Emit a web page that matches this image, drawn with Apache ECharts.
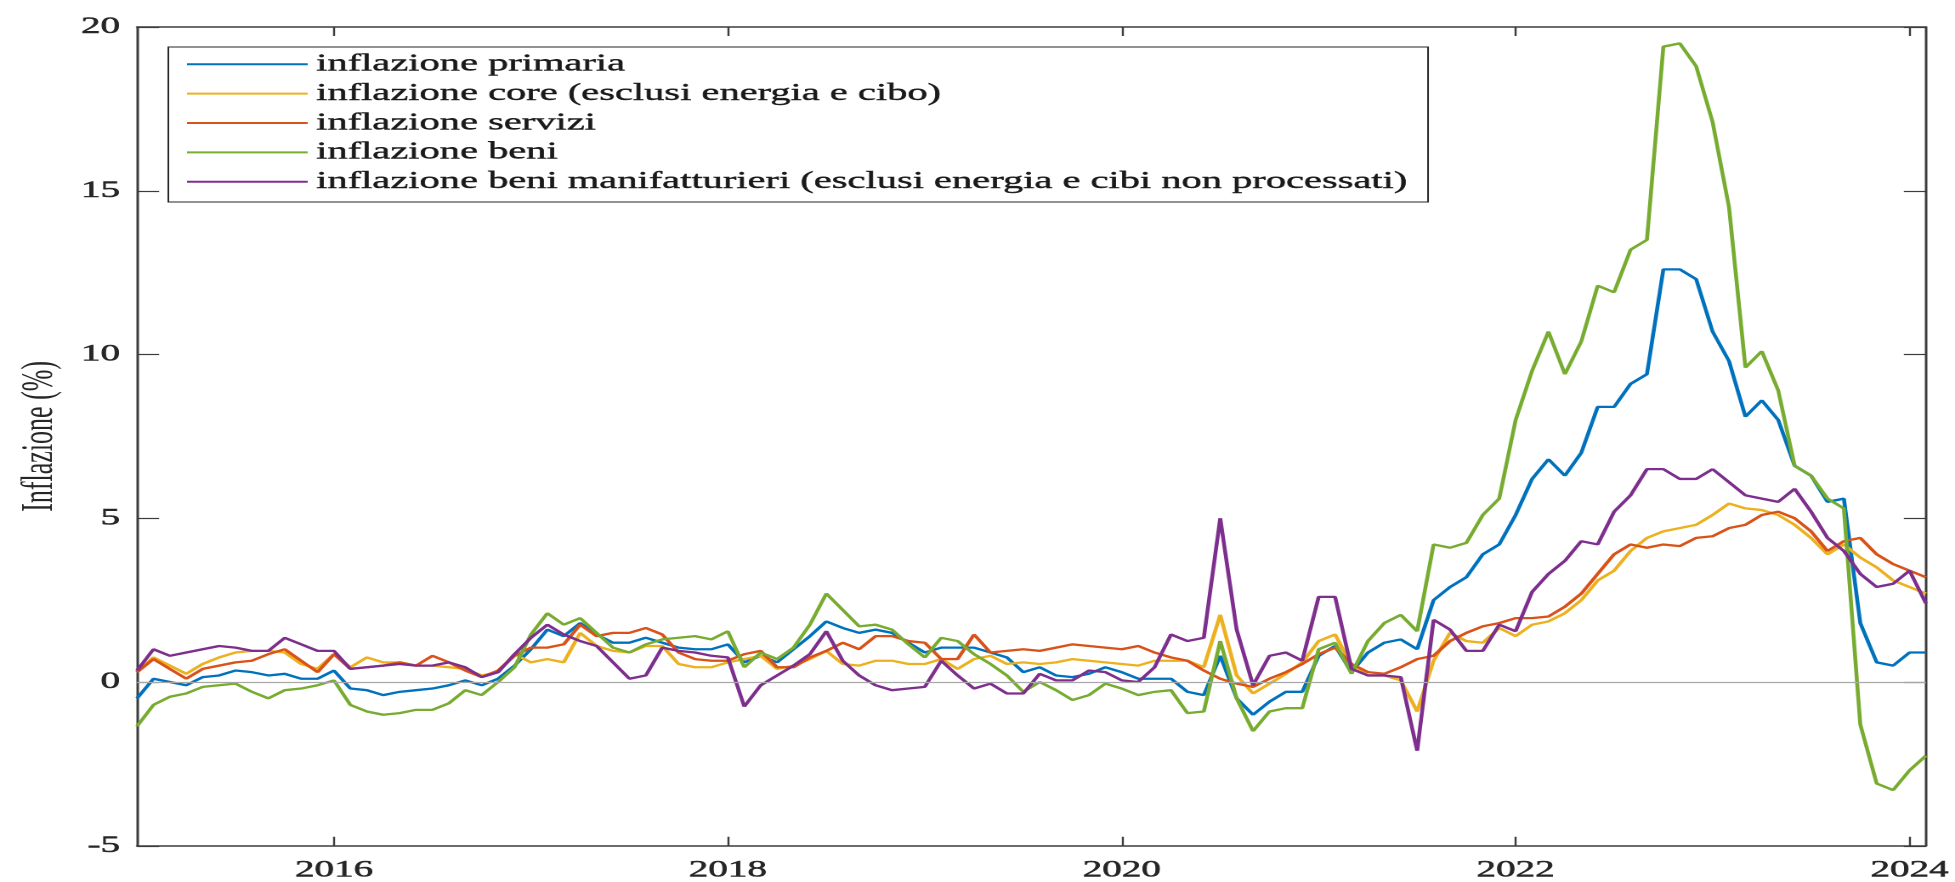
<!DOCTYPE html>
<html>
<head>
<meta charset="utf-8">
<title>Inflazione</title>
<script src="https://cdn.jsdelivr.net/npm/echarts@6/dist/echarts.min.js"></script>
<style>
  html, body { margin: 0; padding: 0; background: #fff; overflow: hidden; }
  /* the reference figure is stretched horizontally, so the chart is drawn narrow and scaled */
  #chart { width: 1150px; height: 882px; transform: scaleX(1.7); transform-origin: 0 0; }
</style>
</head>
<body>
<div id="chart"></div>
<script>
// monthly observations, Jan 2015 .. Feb 2024
const months = [];
for (let y = 2015; y <= 2024; y++) {
  for (let m = 1; m <= 12; m++) {
    if (months.length < 110) months.push(y + '-' + String(m).padStart(2, '0'));
  }
}

const seriesNames = [
  'inflazione primaria',
  'inflazione core (esclusi energia e cibo)',
  'inflazione servizi',
  'inflazione beni',
  'inflazione beni manifatturieri (esclusi energia e cibi non processati)'
];
const seriesColors = ['#0072BD', '#EDB120', '#D95319', '#77AC30', '#7E2F8E'];

const primaria = [
  -0.5, 0.1, 0.0, -0.1, 0.15, 0.2, 0.35, 0.3, 0.2, 0.25, 0.1, 0.1,
  0.35, -0.2, -0.25, -0.4, -0.3, -0.25, -0.2, -0.1, 0.05, -0.1, 0.1, 0.5,
  1.0, 1.6, 1.4, 1.8, 1.45, 1.2, 1.2, 1.35, 1.2, 1.05, 1.0, 1.0,
  1.15, 0.6, 0.8, 0.6, 1.0, 1.4, 1.85, 1.65, 1.5, 1.6, 1.5, 1.2,
  0.9, 1.05, 1.05, 1.05, 0.9, 0.75, 0.3, 0.45, 0.2, 0.15, 0.25, 0.45,
  0.3, 0.1, 0.1, 0.1, -0.3, -0.4, 0.8, -0.5, -1.0, -0.6, -0.3, -0.3,
  0.8, 1.1, 0.3, 0.9, 1.2, 1.3, 1.0, 2.5, 2.9, 3.2, 3.9, 4.2,
  5.1, 6.2, 6.8, 6.3, 7.0, 8.4, 8.4, 9.1, 9.4, 12.6, 12.6, 12.3,
  10.7, 9.8, 8.1, 8.6, 8.0, 6.6, 6.3, 5.5, 5.6, 1.8, 0.6, 0.5,
  0.9, 0.9
];
const core = [
  0.3, 0.75, 0.5, 0.25, 0.55, 0.75, 0.9, 0.95, 0.95, 0.9, 0.55, 0.4,
  0.85, 0.45, 0.75, 0.6, 0.6, 0.5, 0.5, 0.45, 0.4, 0.2, 0.3, 0.85,
  0.6, 0.7, 0.6, 1.5, 1.1, 0.95, 0.9, 1.1, 1.1, 0.55, 0.45, 0.45,
  0.6, 0.7, 0.8, 0.4, 0.5, 0.7, 0.95, 0.55, 0.5, 0.65, 0.65, 0.55,
  0.55, 0.7, 0.4, 0.7, 0.8, 0.55, 0.6, 0.55, 0.6, 0.7, 0.65, 0.6,
  0.55, 0.5, 0.65, 0.65, 0.65, 0.45, 2.05, 0.2, -0.35, -0.05, 0.25, 0.6,
  1.25, 1.45, 0.5, 0.2, 0.2, 0.05, -0.9, 0.65, 1.5, 1.25, 1.2, 1.65,
  1.4, 1.75, 1.85, 2.1, 2.5, 3.1, 3.4, 4.0, 4.4, 4.6, 4.7, 4.8,
  5.1, 5.45, 5.3, 5.25, 5.1, 4.8, 4.4, 3.9, 4.2, 3.8, 3.5, 3.1,
  2.9, 2.7
];
const servizi = [
  0.3, 0.7, 0.4, 0.1, 0.4, 0.5, 0.6, 0.65, 0.85, 1.0, 0.65, 0.3,
  0.85, 0.4, 0.45, 0.5, 0.6, 0.5, 0.8, 0.6, 0.35, 0.15, 0.35, 0.8,
  1.05, 1.05, 1.15, 1.75, 1.4, 1.5, 1.5, 1.65, 1.45, 0.9, 0.7, 0.65,
  0.65, 0.85, 0.95, 0.45, 0.45, 0.75, 0.95, 1.2, 1.0, 1.4, 1.4, 1.25,
  1.2, 0.7, 0.7, 1.45, 0.9, 0.95, 1.0, 0.95, 1.05, 1.15, 1.1, 1.05,
  1.0, 1.1, 0.9, 0.75, 0.65, 0.35, 0.1, -0.05, -0.15, 0.1, 0.3, 0.55,
  0.85, 1.05, 0.55, 0.3, 0.25, 0.45, 0.7, 0.8, 1.25, 1.5, 1.7, 1.8,
  1.95, 1.95, 2.0, 2.3, 2.7, 3.3, 3.9, 4.2, 4.1, 4.2, 4.15, 4.4,
  4.45, 4.7, 4.8, 5.1, 5.2, 5.0, 4.6, 4.0, 4.3, 4.4, 3.9, 3.6,
  3.4, 3.2
];
const beni = [
  -1.35, -0.7, -0.45, -0.35, -0.15, -0.1, -0.05, -0.3, -0.5, -0.25, -0.2, -0.1,
  0.05, -0.7, -0.9, -1.0, -0.95, -0.85, -0.85, -0.65, -0.25, -0.4, 0.0, 0.45,
  1.45, 2.1, 1.75, 1.95, 1.5, 1.05, 0.9, 1.15, 1.3, 1.35, 1.4, 1.3,
  1.55, 0.45, 0.9, 0.7, 1.05, 1.75, 2.7, 2.2, 1.7, 1.75, 1.6, 1.15,
  0.75, 1.35, 1.25, 0.85, 0.55, 0.2, -0.3, 0.0, -0.25, -0.55, -0.4, -0.05,
  -0.2, -0.4, -0.3, -0.25, -0.95, -0.9, 1.25, -0.5, -1.5, -0.9, -0.8, -0.8,
  1.0, 1.2, 0.25, 1.25, 1.8, 2.05, 1.55, 4.2, 4.1, 4.25, 5.1, 5.6,
  8.0, 9.5, 10.7, 9.4, 10.4, 12.1, 11.9, 13.2, 13.5, 19.4, 19.5, 18.8,
  17.1, 14.5, 9.6, 10.1, 8.9, 6.6, 6.3, 5.6, 5.3, -1.3, -3.1, -3.3,
  -2.7, -2.25
];
const manifatturieri = [
  0.35, 1.0, 0.8, 0.9, 1.0, 1.1, 1.05, 0.95, 0.95, 1.35, 1.15, 0.95,
  0.95, 0.4, 0.45, 0.5, 0.55, 0.5, 0.5, 0.6, 0.45, 0.15, 0.3, 0.85,
  1.35, 1.75, 1.45, 1.25, 1.1, 0.6, 0.1, 0.2, 1.05, 0.95, 0.9, 0.8,
  0.75, -0.75, -0.1, 0.2, 0.5, 0.85, 1.55, 0.65, 0.2, -0.1, -0.25, -0.2,
  -0.15, 0.65, 0.2, -0.2, -0.05, -0.35, -0.35, 0.25, 0.05, 0.05, 0.35, 0.3,
  0.05, 0.0, 0.45, 1.45, 1.25, 1.35, 5.0, 1.6, -0.1, 0.8, 0.9, 0.65,
  2.6, 2.6, 0.4, 0.2, 0.2, 0.15, -2.1, 1.9, 1.6, 0.95, 0.95, 1.75,
  1.55, 2.75, 3.3, 3.7, 4.3, 4.2, 5.2, 5.7, 6.5, 6.5, 6.2, 6.2,
  6.5, 6.1, 5.7, 5.6, 5.5, 5.9, 5.2, 4.4, 4.0, 3.3, 2.9, 3.0,
  3.4, 2.4
];

const yTicks = [-5, 0, 5, 10, 15, 20];
const yearTicks = [2016, 2018, 2020, 2022, 2024];

const FONT = 'Liberation Serif';
const INK = '#262626';

function toYear(label) {
  const [y, m] = label.split('-').map(Number);
  return y + (m - 1) / 12;
}
const xs = months.map(toYear);

const allValues = [primaria, core, servizi, beni, manifatturieri];

const chart = echarts.init(document.getElementById('chart'), null, { renderer: 'canvas', devicePixelRatio: 2 });

// a thin outline in the same colour makes the serif text as heavy as in the picture
const heavy = { textBorderColor: INK, textBorderWidth: 0.5 };

const axisLine = { show: true, onZero: false, lineStyle: { color: '#3c3c3c', width: 1.5 } };
const xCommon = {
  type: 'value',
  min: xs[0],
  max: xs[xs.length - 1],
  axisLine: axisLine,
  axisTick: { show: true, inside: true, length: 9, customValues: yearTicks, lineStyle: { color: '#3c3c3c', width: 1.2 } },
  splitLine: { show: false }
};
const yCommon = {
  type: 'value',
  min: yTicks[0],
  max: yTicks[yTicks.length - 1],
  interval: 5,
  axisLine: axisLine,
  axisTick: { show: true, inside: true, length: 13, lineStyle: { color: '#3c3c3c', width: 1.2 } },
  splitLine: { show: false }
};

const option = {
  animation: false,
  backgroundColor: '#fff',
  grid: { left: 80.6, right: 17.1, top: 27, bottom: 33, containLabel: false },
  legend: {
    orient: 'vertical',
    left: 99,
    top: 47,
    padding: [5, 12, 8, 11],
    icon: 'rect',
    itemWidth: 71,
    itemHeight: 2,
    itemGap: 5,
    backgroundColor: '#fff',
    borderColor: INK,
    borderWidth: 1,
    textStyle: Object.assign({ fontFamily: FONT, fontSize: 23.8, color: '#1a1a1a', lineHeight: 22 }, heavy, { textBorderColor: '#1a1a1a', textBorderWidth: 0.4 }),
    data: seriesNames
  },
  xAxis: [
    Object.assign({}, xCommon, {
      position: 'bottom',
      axisLabel: Object.assign({
        customValues: yearTicks,
        margin: 13,
        fontFamily: FONT, fontSize: 23, color: INK,
        formatter: v => String(Math.round(v))
      }, heavy)
    }),
    Object.assign({}, xCommon, { position: 'top', axisLabel: { show: false } })
  ],
  yAxis: [
    Object.assign({}, yCommon, {
      position: 'left',
      name: 'Inflazione (%)',
      nameLocation: 'middle',
      nameGap: 28,
      nameTextStyle: { fontFamily: FONT, fontSize: 26, color: INK },
      axisLabel: Object.assign({ margin: 10, fontFamily: FONT, fontSize: 23, color: INK }, heavy)
    }),
    Object.assign({}, yCommon, { position: 'right', axisLabel: { show: false } })
  ],
  series: seriesNames.map((name, k) => ({
    name: name,
    type: 'line',
    xAxisIndex: 0,
    yAxisIndex: 0,
    symbol: 'none',
    data: xs.map((x, i) => [x, allValues[k][i]]),
    lineStyle: { width: 2.3, color: seriesColors[k] },
    itemStyle: { color: seriesColors[k] },
    markLine: k === 0 ? {
      silent: true,
      symbol: ['none', 'none'],
      label: { show: false },
      lineStyle: { color: '#a8a8a8', width: 1.2, type: 'solid' },
      data: [{ yAxis: 0 }]
    } : undefined
  }))
};

chart.setOption(option);
</script>
</body>
</html>
